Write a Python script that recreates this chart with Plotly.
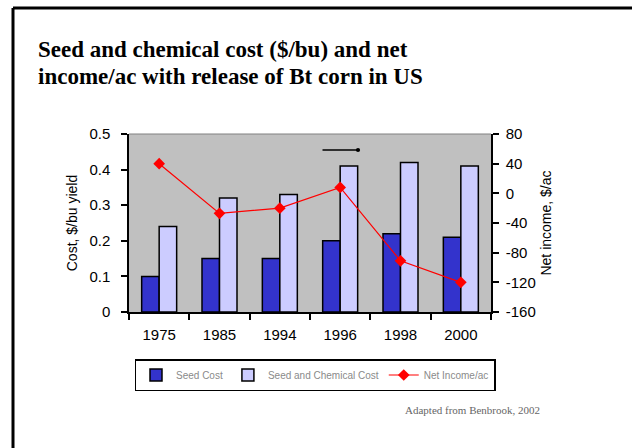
import plotly.graph_objects as go

# Chart data
years = ["1975", "1985", "1994", "1996", "1998", "2000"]
seed_cost = [0.10, 0.15, 0.15, 0.20, 0.22, 0.21]
seed_chem_cost = [0.24, 0.32, 0.33, 0.41, 0.42, 0.41]
net_income = [40, -27, -20, 8, -91, -120]

cost_ticks = [0, 0.1, 0.2, 0.3, 0.4, 0.5]
cost_labels = ["0", "0.1", "0.2", "0.3", "0.4", "0.5"]
income_ticks = [-160, -120, -80, -40, 0, 40, 80]
income_labels = ["-160", "-120", "-80", "-40", "0", "40", "80"]

W, H = 632, 448
ML, MR, MT, MB = 129, 141, 134, 136
PW, PH = W - ML - MR, H - MT - MB


def px(x):
    return (x - ML) / PW


def py(y):
    return (H - MB - y) / PH


fig = go.Figure()
fig.add_trace(go.Bar(
    x=years, y=seed_cost, name="Seed Cost",
    marker=dict(color="#3333cc", line=dict(color="black", width=1.5)),
))
fig.add_trace(go.Bar(
    x=years, y=seed_chem_cost, name="Seed and Chemical Cost",
    marker=dict(color="#ccccff", line=dict(color="black", width=1.5)),
))
fig.add_trace(go.Scatter(
    x=years, y=net_income, name="Net Income/ac", yaxis="y2",
    mode="lines+markers",
    line=dict(color="#ff0000", width=1.2),
    marker=dict(color="#ff0000", symbol="diamond", size=9),
))

tick_font = dict(family="Liberation Sans, Arial, sans-serif", size=15, color="black")
axis_title_font = dict(family="Liberation Sans, Arial, sans-serif", size=14, color="black")
title_font = dict(family="Liberation Serif, Times New Roman, serif", size=23,
                  color="black", weight="bold")

fig.update_layout(
    width=W, height=H,
    margin=dict(l=ML, r=MR, t=MT, b=MB),
    paper_bgcolor="white",
    plot_bgcolor="#c0c0c0",
    barmode="group",
    bargap=0.42,
    bargroupgap=0,
    showlegend=True,
    legend=dict(
        orientation="h", x=px(315), xanchor="center", y=py(359), yanchor="top",
        bordercolor="black", borderwidth=1.5, bgcolor="white",
        font=dict(family="Liberation Sans, Arial, sans-serif", size=10, color="#8a8a8a"),
        itemwidth=30, tracegroupgap=0,
    ),
    xaxis=dict(
        type="category", showline=True, linecolor="black", linewidth=1.5,
        ticks="outside", ticklen=6, tickcolor="black", tickwidth=1.5,
        tickson="boundaries", showgrid=False, tickfont=tick_font,
        ticklabelstandoff=8,
    ),
    yaxis=dict(
        range=[0, 0.5], tickvals=cost_ticks, ticktext=cost_labels,
        showline=True, linecolor="black", linewidth=1.5,
        ticks="outside", ticklen=6, tickcolor="black", tickwidth=1.5,
        showgrid=False, zeroline=False, tickfont=tick_font,
        ticklabelstandoff=8,
        title=dict(text="Cost, $/bu yield", font=axis_title_font, standoff=8),
    ),
    yaxis2=dict(
        range=[-160, 80], tickvals=income_ticks, ticktext=income_labels,
        overlaying="y", side="right",
        showline=True, linecolor="black", linewidth=1.5,
        ticks="outside", ticklen=6, tickcolor="black", tickwidth=1.5,
        showgrid=False, zeroline=False, tickfont=tick_font,
        ticklabelstandoff=4,
        title=dict(text="Net income, $/ac", font=axis_title_font, standoff=6),
    ),
    shapes=[
        # frame along top and left edges
        dict(type="line", xref="paper", yref="paper", x0=px(13), x1=px(W + 5),
             y0=py(8), y1=py(8), line=dict(color="black", width=3)),
        dict(type="line", xref="paper", yref="paper", x0=px(13), x1=px(13),
             y0=py(8), y1=py(H + 5), line=dict(color="black", width=3)),
        # plot area top edge
        dict(type="line", xref="paper", yref="paper", x0=0, x1=1, y0=1, y1=1,
             line=dict(color="#808080", width=1)),
    ],
    annotations=[
        dict(xref="paper", yref="paper", x=px(36), y=py(50), xanchor="left",
             yanchor="middle", showarrow=False, font=title_font,
             text="Seed and chemical cost ($/bu) and net"),
        dict(xref="paper", yref="paper", x=px(36), y=py(76), xanchor="left",
             yanchor="middle", showarrow=False, font=title_font,
             text="income/ac with release of Bt corn in US"),
        dict(xref="paper", yref="paper", x=px(358), y=py(150), ax=-37, ay=0,
             showarrow=True, arrowhead=6, arrowsize=0.7, arrowwidth=1.5,
             arrowcolor="black", text=""),
        dict(xref="paper", yref="paper", x=px(403), y=py(410), xanchor="left",
             yanchor="middle", showarrow=False, text="Adapted from Benbrook, 2002",
             font=dict(family="Liberation Serif, Times New Roman, serif", size=11,
                       color="#666666")),
    ],
)

fig.write_html("out.html")
